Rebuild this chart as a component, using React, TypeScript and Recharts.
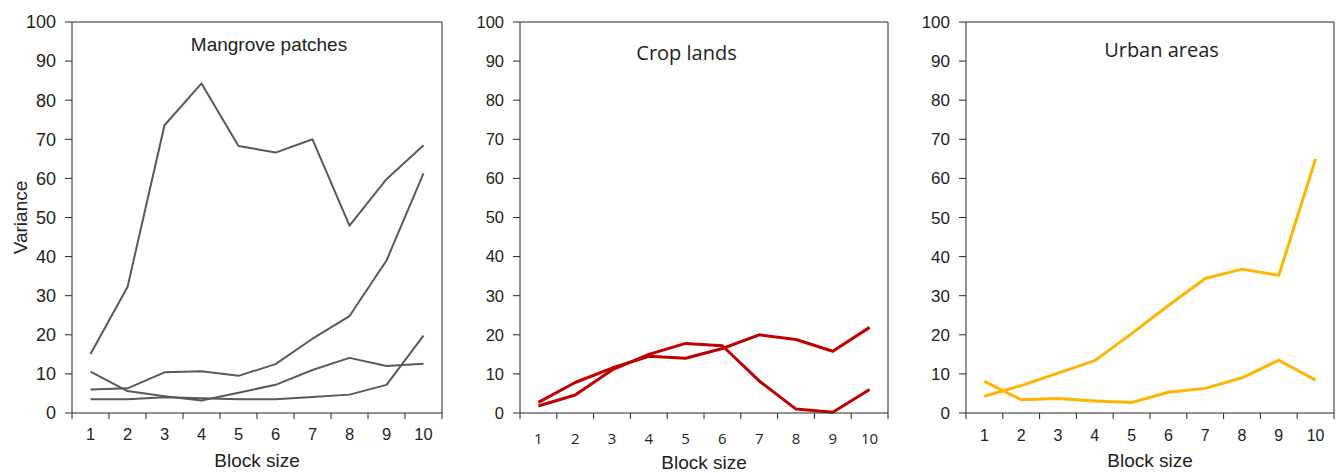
import React from 'react';
import { LineChart, Line, XAxis, YAxis, ReferenceLine } from 'recharts';

// Block sizes on the x axis
const blockSizes = [1, 2, 3, 4, 5, 6, 7, 8, 9, 10];
const varianceTicks = [0, 10, 20, 30, 40, 50, 60, 70, 80, 90, 100];
// tick marks sit between the block-size labels
const xTicks = [0.5, 1, 1.5, 2, 2.5, 3, 3.5, 4, 4.5, 5, 5.5, 6, 6.5, 7, 7.5, 8, 8.5, 9, 9.5, 10, 10.5];

// Mangrove patches
const mangroveA = [15.1, 32.2, 73.6, 84.3, 68.3, 66.6, 70.0, 47.9, 59.8, 68.5];
const mangroveB = [6.0, 6.3, 10.4, 10.7, 9.5, 12.5, 19.0, 24.8, 39.0, 61.3];
const mangroveC = [10.6, 5.6, 4.3, 3.2, 5.2, 7.2, 11.0, 14.1, 12.0, 12.6];
const mangroveD = [3.5, 3.5, 4.0, 3.8, 3.5, 3.5, 4.1, 4.7, 7.2, 19.8];

// Crop lands
const cropA = [2.7, 7.8, 11.5, 14.5, 14.0, 16.5, 20.0, 18.8, 15.8, 21.9];
const cropB = [1.8, 4.6, 11.0, 15.0, 17.8, 17.2, 8.2, 1.0, 0.2, 6.0];

// Urban areas
const urbanA = [4.3, 7.0, 10.2, 13.4, 20.3, 27.5, 34.4, 36.8, 35.2, 65.0];
const urbanB = [8.1, 3.4, 3.7, 3.1, 2.7, 5.3, 6.3, 9.0, 13.5, 8.4];

const ARIAL = '"Liberation Sans", Arial, sans-serif';
const OPEN = '"Open Sans", sans-serif';
const AXIS = '#262626';

function buildRows(series: number[][]) {
  return blockSizes.map((b, i) => {
    const row: Record<string, number> = { block: b };
    series.forEach((s, k) => {
      row['s' + k] = s[i];
    });
    return row;
  });
}

type PanelProps = {
  series: number[][];
  color: string;
  strokeWidth: number;
  yAxisWidth: number;
  yFontSize: number;
  xFont: string;
  xFontSize: number;
  xLabelDy: number;
  blockLabelOffset: number;
  showVariance?: boolean;
};

const makeTick = (font: string, size: number, dy: number) => (props: any) => {
  const { x, y, payload } = props;
  const v = payload.value as number;
  if (Number.isInteger(v)) {
    return (
      <text x={x} y={y + dy} textAnchor="middle" dominantBaseline="central" fontFamily={font} fontSize={size} fill="#222">
        {v}
      </text>
    );
  }
  return <line x1={x} y1={y} x2={x} y2={y + 6} stroke={AXIS} strokeWidth={1} />;
};

function Panel(p: PanelProps) {
  const rows = buildRows(p.series);
  return (
    <LineChart width={446} height={473} data={rows} margin={{ top: 22, right: 4, bottom: 0, left: 0 }}>
      <XAxis
        type="number"
        dataKey="block"
        domain={[0.5, 10.5]}
        ticks={xTicks}
        interval={0}
        tickLine={false}
        tickSize={0}
        tickMargin={0}
        height={60}
        axisLine={{ stroke: AXIS, strokeWidth: 1 }}
        tick={makeTick(p.xFont, p.xFontSize, p.xLabelDy)}
        label={{
          value: 'Block size',
          position: 'insideBottom',
          offset: p.blockLabelOffset,
          style: { fontFamily: ARIAL, fontSize: 19, fill: '#222' },
        }}
      />
      <YAxis
        type="number"
        domain={[0, 100]}
        ticks={varianceTicks}
        interval={0}
        width={p.yAxisWidth}
        tickSize={7}
        tickMargin={9}
        axisLine={{ stroke: AXIS, strokeWidth: 1 }}
        tickLine={{ stroke: AXIS, strokeWidth: 1 }}
        tick={{ fontFamily: ARIAL, fontSize: p.yFontSize, fill: '#222' }}
        label={
          p.showVariance
            ? {
                value: 'Variance',
                angle: -90,
                position: 'insideLeft',
                offset: 20,
                style: { fontFamily: ARIAL, fontSize: 19, fill: '#222', textAnchor: 'middle' },
              }
            : undefined
        }
      />
      <ReferenceLine y={100} stroke={AXIS} strokeWidth={1} />
      <ReferenceLine x={10.5} stroke={AXIS} strokeWidth={1} />
      {p.series.map((_, k) => (
        <Line
          key={k}
          type="linear"
          dataKey={'s' + k}
          stroke={p.color}
          strokeWidth={p.strokeWidth}
          dot={false}
          activeDot={false}
          strokeLinejoin="round"
          isAnimationActive={false}
        />
      ))}
    </LineChart>
  );
}

export default function App() {
  return (
    <div style={{ position: 'absolute', left: 0, top: 0, width: 1338, height: 473, background: '#fff' }}>
      <div style={{ position: 'absolute', left: 0, top: 0 }}>
        <Panel
          series={[mangroveA, mangroveB, mangroveC, mangroveD]}
          color="#595959"
          strokeWidth={2}
          yAxisWidth={72}
          yFontSize={18}
          xFont={ARIAL}
          xFontSize={16.5}
          xLabelDy={21}
          blockLabelOffset={6}
          showVariance
        />
      </div>
      <div style={{ position: 'absolute', left: 446, top: 0 }}>
        <Panel
          series={[cropA, cropB]}
          color="#C00000"
          strokeWidth={3}
          yAxisWidth={74}
          yFontSize={16.5}
          xFont={OPEN}
          xFontSize={15}
          xLabelDy={25}
          blockLabelOffset={4}
        />
      </div>
      <div style={{ position: 'absolute', left: 892, top: 0 }}>
        <Panel
          series={[urbanA, urbanB]}
          color="#FFB400"
          strokeWidth={3}
          yAxisWidth={74}
          yFontSize={17}
          xFont={ARIAL}
          xFontSize={16}
          xLabelDy={22}
          blockLabelOffset={6}
        />
      </div>
      <svg width={1338} height={473} style={{ position: 'absolute', left: 0, top: 0, pointerEvents: 'none' }}>
        <text x={269} y={50.5} textAnchor="middle" fontFamily={ARIAL} fontSize={19} fill="#222">
          Mangrove patches
        </text>
        <text x={686.5} y={60} textAnchor="middle" fontFamily={OPEN} fontSize={20} fill="#222">
          Crop lands
        </text>
        <text x={1161.5} y={57.3} textAnchor="middle" fontFamily={OPEN} fontSize={20} fill="#222">
          Urban areas
        </text>
      </svg>
    </div>
  );
}
